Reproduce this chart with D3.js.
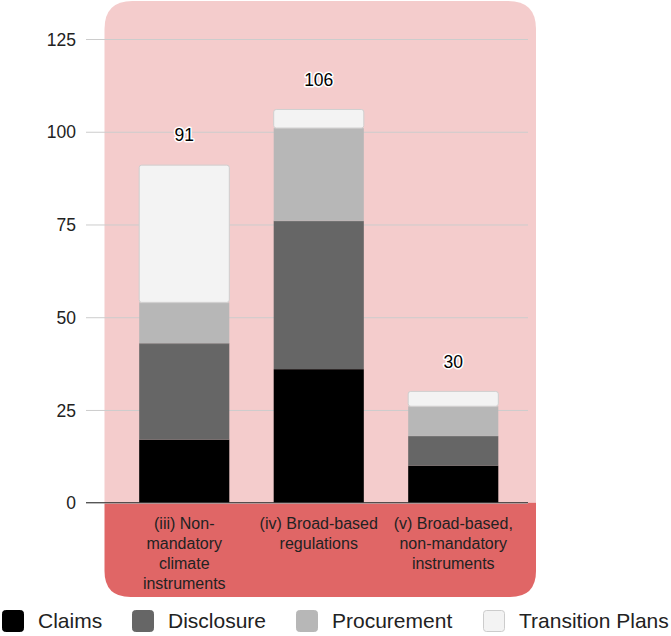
<!DOCTYPE html>
<html>
<meta charset="utf-8">
<title>Stacked bars</title>
<style>
  body { margin: 0; background: #fff; }
  text { font-family: "Liberation Sans", Arial, sans-serif; }
  .grid line { stroke: #cccccc; stroke-width: 1; }
  .grid text { font-size: 17.5px; fill: #222; }
</style>
<script src="https://d3js.org/d3.v7.min.js"></script>
<body>
<svg id="chart" width="671" height="636"></svg>
<script>
// categories (line breaks as shown on the axis)
var categories = ["(iii) Non-mandatory climate instruments", "(iv) Broad-based regulations", "(v) Broad-based, non-mandatory instruments"];
var categoryLines = [
  ["(iii) Non-", "mandatory", "climate", "instruments"],
  ["(iv) Broad-based", "regulations"],
  ["(v) Broad-based,", "non-mandatory", "instruments"]
];
var seriesNames = ["Claims", "Disclosure", "Procurement", "Transition Plans"];
var claims = [17, 36, 10];
var disclosure = [26, 40, 8];
var procurement = [11, 25, 8];
var transitionPlans = [37, 5, 4];
var yTicks = [0, 25, 50, 75, 100, 125];

var colors = ["#000000", "#666666", "#b7b7b7", "#f3f3f3"];

var svg = d3.select("#chart");

var x = d3.scaleBand()
    .domain(categories)
    .range([117, 520.5])
    .paddingInner(0.33)
    .paddingOuter(0.165);

var y = d3.scaleLinear()
    .domain([0, 125])
    .range([502.7, 39]);

// background panels
function roundTop(x0, y0, w, h, r) {
  return "M" + x0 + "," + (y0 + h) + "V" + (y0 + r) +
    "Q" + x0 + "," + y0 + " " + (x0 + r) + "," + y0 +
    "H" + (x0 + w - r) + "Q" + (x0 + w) + "," + y0 + " " + (x0 + w) + "," + (y0 + r) +
    "V" + (y0 + h) + "Z";
}
function roundBottom(x0, y0, w, h, r) {
  return "M" + x0 + "," + y0 + "V" + (y0 + h - r) +
    "Q" + x0 + "," + (y0 + h) + " " + (x0 + r) + "," + (y0 + h) +
    "H" + (x0 + w - r) + "Q" + (x0 + w) + "," + (y0 + h) + " " + (x0 + w) + "," + (y0 + h - r) +
    "V" + y0 + "Z";
}
svg.append("path").attr("d", roundTop(104.5, 1, 431.5, y(0) - 1, 28)).attr("fill", "#f4cccc");
svg.append("path").attr("d", roundBottom(104.5, y(0), 431.5, 597 - y(0), 26)).attr("fill", "#e06666");

// gridlines + y labels
svg.append("g")
    .attr("class", "grid")
    .attr("transform", "translate(86,0)")
    .call(d3.axisLeft(y).tickValues(yTicks).tickSize(-442).tickPadding(10))
    .call(function(g) { g.select(".domain").remove(); })
    .call(function(g) { g.selectAll("text").attr("dy", "0.35em"); });

// stacked bars
var table = categories.map(function(c, i) {
  return { cat: c, Claims: claims[i], Disclosure: disclosure[i], Procurement: procurement[i], "Transition Plans": transitionPlans[i] };
});
var stacked = d3.stack().keys(seriesNames)(table);

var layers = svg.append("g").selectAll("g")
  .data(stacked)
  .enter().append("g")
    .attr("fill", function(d, i) { return colors[i]; });

layers.selectAll("rect")
  .data(function(d) { return d.map(function(v) { v.key = d.key; return v; }); })
  .enter().append("rect")
    .attr("x", function(d) { return x(d.data.cat); })
    .attr("width", x.bandwidth())
    .attr("y", function(d) { return y(d[1]); })
    .attr("height", function(d) { return y(d[0]) - y(d[1]); })
    .attr("rx", function(d) { return d.key === "Transition Plans" ? 2.5 : 0; })
    .attr("stroke", function(d) { return d.key === "Transition Plans" ? "#cfcfcf" : "none"; })
    .attr("stroke-width", 1);

// thin separators at segment tops
layers.filter(function(d, i) { return i > 0 && i < 3; }).selectAll("line")
  .data(function(d) { return d; })
  .enter().append("line")
    .attr("x1", function(d) { return x(d.data.cat); })
    .attr("x2", function(d) { return x(d.data.cat) + x.bandwidth(); })
    .attr("y1", function(d) { return y(d[1]) + 0.5; })
    .attr("y2", function(d) { return y(d[1]) + 0.5; })
    .attr("stroke", "#ffffff")
    .attr("stroke-opacity", 0.12);

// baseline
svg.append("line")
    .attr("x1", 86).attr("x2", 528)
    .attr("y1", y(0)).attr("y2", y(0))
    .attr("stroke", "#333").attr("stroke-width", 1);

// totals
var totals = categories.map(function(c, i) { return claims[i] + disclosure[i] + procurement[i] + transitionPlans[i]; });
svg.append("g").selectAll("text")
  .data(totals)
  .enter().append("text")
    .attr("x", function(d, i) { return x(categories[i]) + x.bandwidth() / 2; })
    .attr("y", function(d) { return y(d) - 30; })
    .attr("dy", "0.35em")
    .attr("text-anchor", "middle")
    .attr("font-size", 17.5)
    .attr("fill", "#000")
    .attr("stroke", "#fff")
    .attr("stroke-width", 3)
    .attr("paint-order", "stroke")
    .attr("stroke-linejoin", "round")
    .text(function(d) { return d; });

// category labels
var catG = svg.append("g").selectAll("text")
  .data(categories)
  .enter().append("text")
    .attr("text-anchor", "middle")
    .attr("font-size", 16)
    .attr("fill", "#222")
    .attr("transform", function(d) { return "translate(" + (x(d) + x.bandwidth() / 2) + ",528.5)"; });
catG.selectAll("tspan")
  .data(function(d, i) { return categoryLines[i]; })
  .enter().append("tspan")
    .attr("x", 0)
    .attr("y", function(d, j) { return j * 20; })
    .text(function(d) { return d; });

// legend
var legendX = [2, 132, 296, 483];
var legend = svg.append("g").selectAll("g")
  .data(seriesNames)
  .enter().append("g")
    .attr("transform", function(d, i) { return "translate(" + legendX[i] + ",610)"; });
legend.append("rect")
    .attr("x", 0.5).attr("y", 0.5)
    .attr("width", 21).attr("height", 21)
    .attr("rx", 3)
    .attr("fill", function(d, i) { return colors[i]; })
    .attr("stroke", function(d, i) { return i === 3 ? "#cccccc" : colors[i]; });
legend.append("text")
    .attr("x", 36)
    .attr("y", 11)
    .attr("dy", "0.35em")
    .attr("font-size", 21)
    .attr("fill", "#222")
    .text(function(d) { return d; });
</script>
</body>
</html>
